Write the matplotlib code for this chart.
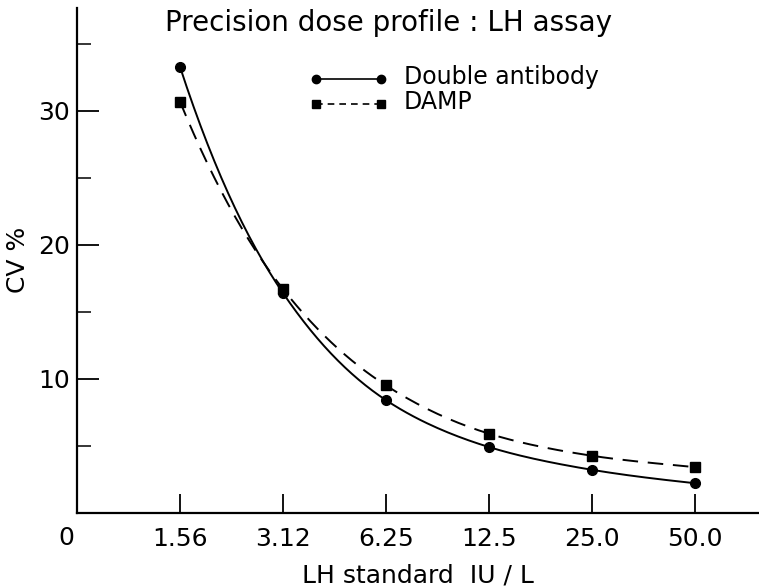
import numpy as np
import matplotlib
matplotlib.use("Agg")
from matplotlib import pyplot as plt

plt.rcParams['font.family'] = ['DejaVu Sans']

# data
doses = ["1.56", "3.12", "6.25", "12.5", "25.0", "50.0"]
cv_double_antibody = [33.3, 16.4, 8.4, 4.9, 3.2, 2.2]
cv_damp = [30.7, 16.7, 9.5, 5.9, 4.25, 3.4]


def smooth(xs, ys, n=30):
    # catmull-rom curve through the points (in log y), only for drawing
    xs = np.asarray(xs, float)
    ys = np.log(np.asarray(ys, float))
    px = np.concatenate([[2 * xs[0] - xs[1]], xs, [2 * xs[-1] - xs[-2]]])
    py = np.concatenate([[2 * ys[0] - ys[1]], ys, [2 * ys[-1] - ys[-2]]])
    ox, oy = [], []
    for i in range(1, len(px) - 2):
        t = np.linspace(0, 1, n, endpoint=(i == len(px) - 3))
        for p, o in ((px, ox), (py, oy)):
            p0, p1, p2, p3 = p[i - 1], p[i], p[i + 1], p[i + 2]
            o.extend(0.5 * ((2 * p1) + (-p0 + p2) * t
                            + (2 * p0 - 5 * p1 + 4 * p2 - p3) * t ** 2
                            + (-p0 + 3 * p1 - 3 * p2 + p3) * t ** 3))
    return np.array(ox), np.exp(np.array(oy))


xpos = np.arange(1, len(doses) + 1)

fig = plt.figure(figsize=(7.59, 5.87), dpi=100)
ax = fig.add_axes([0.1014, 0.1266, 0.8986, 0.86])

sx, sy = smooth(xpos, cv_double_antibody)
ax.plot(sx, sy, color='black', lw=1.4)
ax.plot(xpos, cv_double_antibody, 'o', color='black', ms=7)

sx, sy = smooth(xpos, cv_damp)
ax.plot(sx, sy, color='black', lw=1.4, dashes=(8, 5))
ax.plot(xpos, cv_damp, 's', color='black', ms=6.5)

ax.set_xlim(0, 6.62)
ax.set_ylim(0, 37.7)

for s in ['top', 'right']:
    ax.spines[s].set_visible(False)
for s in ['left', 'bottom']:
    ax.spines[s].set_linewidth(1.6)

ax.set_xticks(xpos)
ax.set_xticklabels(doses, fontsize=18)
ax.tick_params(axis='x', direction='in', length=14, width=1.3, pad=10)
ax.set_yticks([10, 20, 30])
ax.set_yticks([5, 15, 25, 35], minor=True)
ax.tick_params(axis='y', which='major', direction='in', length=16, width=1.3, labelsize=18, pad=5)
ax.tick_params(axis='y', which='minor', direction='in', length=10, width=1.1)

ax.text(-0.1, -1.0, "0", ha='center', va='top', fontsize=18)
ax.set_xlabel("LH standard  IU / L", fontsize=18, labelpad=9)
ax.set_ylabel("CV %", fontsize=18, labelpad=6)

ax.text(3.02, 36.6, "Precision dose profile : LH assay", ha='center', va='center', fontsize=20)

# legend drawn by hand to match the figure
ax.plot([2.32, 2.95], [32.4, 32.4], '-', color='black', lw=1.2)
ax.plot([2.32, 2.95], [32.4, 32.4], 'o', color='black', ms=6)
ax.text(3.17, 32.5, "Double antibody", va='center', fontsize=17)
ax.plot([2.32, 2.95], [30.55, 30.55], color='black', lw=1.2, dashes=(4, 3))
ax.plot([2.32, 2.95], [30.55, 30.55], 's', color='black', ms=5.5)
ax.text(3.17, 30.65, "DAMP", va='center', fontsize=17)

fig.savefig("out.png", dpi=100)
